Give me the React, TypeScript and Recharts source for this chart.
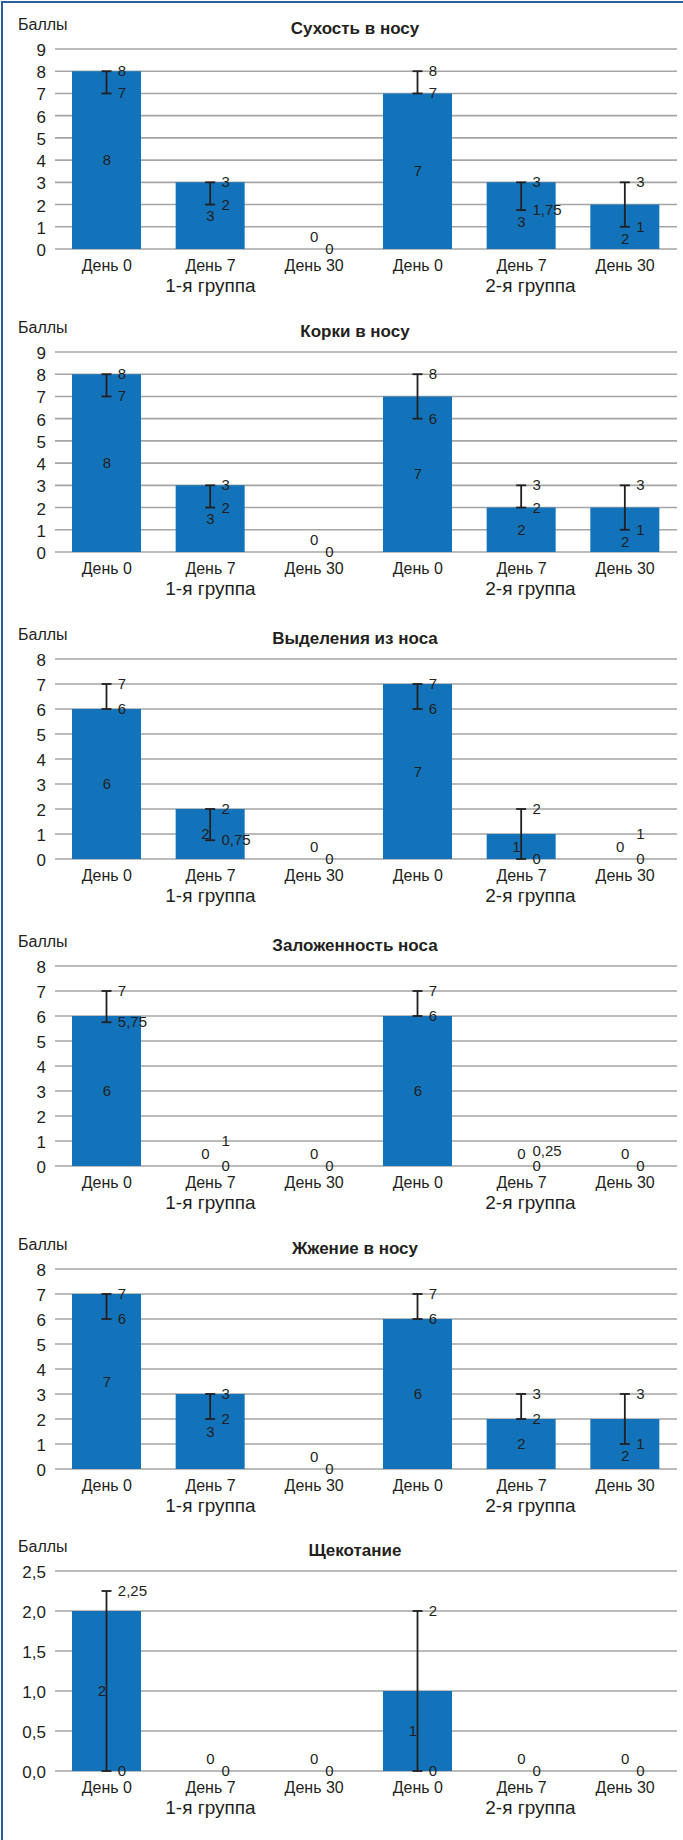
import { ComposedChart, Bar, Line, XAxis, YAxis, CartesianGrid, ErrorBar, LabelList } from "recharts"

const CATEGORIES = ["День 0", "День 7", "День 30", "День 0", "День 7", "День 30"]
const GROUPS = ["1-я группа", "2-я группа"]

// median, lower and upper quartile per category
const DRYNESS_MEDIAN = [8, 3, 0, 7, 3, 2]
const DRYNESS_LOW = [7, 2, 0, 7, 1.75, 1]
const DRYNESS_HIGH = [8, 3, 0, 8, 3, 3]

const CRUSTS_MEDIAN = [8, 3, 0, 7, 2, 2]
const CRUSTS_LOW = [7, 2, 0, 6, 2, 1]
const CRUSTS_HIGH = [8, 3, 0, 8, 3, 3]

const DISCHARGE_MEDIAN = [6, 2, 0, 7, 1, 0]
const DISCHARGE_LOW = [6, 0.75, 0, 6, 0, 0]
const DISCHARGE_HIGH = [7, 2, 0, 7, 2, 1]

const CONGESTION_MEDIAN = [6, 0, 0, 6, 0, 0]
const CONGESTION_LOW = [5.75, 0, 0, 6, 0, 0]
const CONGESTION_HIGH = [7, 1, 0, 7, 0.25, 0]

const BURNING_MEDIAN = [7, 3, 0, 6, 2, 2]
const BURNING_LOW = [6, 2, 0, 6, 2, 1]
const BURNING_HIGH = [7, 3, 0, 7, 3, 3]

const TICKLING_MEDIAN = [2, 0, 0, 1, 0, 0]
const TICKLING_LOW = [0, 0, 0, 0, 0, 0]
const TICKLING_HIGH = [2.25, 0, 0, 2, 0, 0]

const TICKS_9 = [0, 1, 2, 3, 4, 5, 6, 7, 8, 9]
const TICKS_8 = [0, 1, 2, 3, 4, 5, 6, 7, 8]
const TICKS_25 = [0, 0.5, 1, 1.5, 2, 2.5]

const BAR_COLOR = "#1273ba"
const TEXT_COLOR = "#231f20"
const GRID_COLOR = "#a5a5a5"
const FRAME_COLOR = "#2c5e9e"
const FONT = '"Liberation Sans", Arial, sans-serif'

const PANELS = [
  { title: "Сухость в носу", plotTop: 49, ticks: TICKS_9, median: DRYNESS_MEDIAN, low: DRYNESS_LOW, high: DRYNESS_HIGH },
  { title: "Корки в носу", plotTop: 352, ticks: TICKS_9, median: CRUSTS_MEDIAN, low: CRUSTS_LOW, high: CRUSTS_HIGH },
  { title: "Выделения из носа", plotTop: 659, ticks: TICKS_8, median: DISCHARGE_MEDIAN, low: DISCHARGE_LOW, high: DISCHARGE_HIGH },
  { title: "Заложенность носа", plotTop: 966, ticks: TICKS_8, median: CONGESTION_MEDIAN, low: CONGESTION_LOW, high: CONGESTION_HIGH },
  { title: "Жжение в носу", plotTop: 1269, ticks: TICKS_8, median: BURNING_MEDIAN, low: BURNING_LOW, high: BURNING_HIGH },
  { title: "Щекотание", plotTop: 1571, ticks: TICKS_25, median: TICKLING_MEDIAN, low: TICKLING_LOW, high: TICKLING_HIGH, decimals: 1 },
]

const fmt = (v: number) => String(v).replace(".", ",")

const W = 683
const H = 320
const TOP = 49

// where the median label sits: middle of the bar, unless the lower cap is right there
function labelSpot(v: number, lo: number, hi: number) {
  if (v === 0) return { at: 0, dy: -12, dx: hi >= 0.5 ? -5 : 0 }
  const mid = v / 2
  if (lo >= mid && lo - mid <= 0.3) return { at: lo, dy: 12, dx: 0 }
  return { at: mid, dy: 0, dx: lo < mid && hi > mid ? -5 : 0 }
}

function DayTick(props: any) {
  const { x, y, payload, index } = props
  const g = index === 1 ? 0 : index === 4 ? 1 : -1
  return (
    <g>
      <text x={x} y={y + 22} textAnchor="middle" fontSize={16} fontFamily={FONT} fill={TEXT_COLOR}>
        {payload.value}
      </text>
      {g >= 0 && (
        <text x={x + (g === 1 ? 9 : 0)} y={y + 43} textAnchor="middle" fontSize={19} fontFamily={FONT} fill={TEXT_COLOR}>
          {GROUPS[g]}
        </text>
      )}
    </g>
  )
}

function Panel({ title, plotTop, ticks, median, low, high, decimals }: any) {
  const data = CATEGORIES.map((day, i) => ({
    day,
    median: median[i],
    low: low[i],
    high: high[i],
    err: [median[i] - low[i], high[i] - median[i]],
    labelAt: labelSpot(median[i], low[i], high[i]).at,
  }))
  const yMax = ticks[ticks.length - 1]

  const valueLabel = (p: any) => {
    const vb = p.viewBox || p
    const i = p.index
    const s = labelSpot(median[i], low[i], high[i])
    return (
      <text x={vb.x + s.dx} y={vb.y + s.dy} dy={5} textAnchor="middle" fontSize={15} fontFamily={FONT} fill={TEXT_COLOR}>
        {fmt(median[i])}
      </text>
    )
  }

  const highLabel = (p: any) => {
    const vb = p.viewBox || p
    const i = p.index
    const gap = high[i] - low[i]
    const shift = gap > 0 && gap < 0.5 ? -9 : 0
    return (
      <text x={vb.x + 11} y={vb.y + shift} dy={5} fontSize={15} fontFamily={FONT} fill={TEXT_COLOR}>
        {fmt(high[i])}
      </text>
    )
  }

  const lowLabel = (p: any) => {
    const vb = p.viewBox || p
    const i = p.index
    if (low[i] === high[i]) return null
    return (
      <text x={vb.x + 11} y={vb.y} dy={5} fontSize={15} fontFamily={FONT} fill={TEXT_COLOR}>
        {fmt(low[i])}
      </text>
    )
  }

  return (
    <div style={{ position: "absolute", left: 0, top: plotTop - TOP, width: W, height: H }}>
      <ComposedChart width={W} height={H} data={data} margin={{ top: TOP, right: 6, bottom: 11, left: 0 }}>
        <CartesianGrid vertical={false} stroke={GRID_COLOR} strokeWidth={1.6} />
        <XAxis
          dataKey="day"
          axisLine={false}
          tickLine={false}
          tickSize={0}
          tickMargin={0}
          height={60}
          interval={0}
          tick={<DayTick />}
        />
        <YAxis
          width={55}
          domain={[0, yMax]}
          ticks={ticks}
          axisLine={false}
          tickLine={false}
          tickSize={0}
          tickMargin={9}
          interval={0}
          tick={{ fontSize: 17, fontFamily: FONT, fill: TEXT_COLOR, dy: 1 }}
          tickFormatter={(v: number) => (decimals ? v.toFixed(decimals).replace(".", ",") : String(v))}
        />
        <Bar dataKey="median" fill={BAR_COLOR} barSize={69} isAnimationActive={false}>
          <ErrorBar dataKey="err" width={5} strokeWidth={1.8} stroke={TEXT_COLOR} direction="y" />
        </Bar>
        <Line dataKey="labelAt" stroke="none" dot={false} activeDot={false} legendType="none" isAnimationActive={false}>
          <LabelList dataKey="labelAt" content={valueLabel} />
        </Line>
        <Line dataKey="high" stroke="none" dot={false} activeDot={false} legendType="none" isAnimationActive={false}>
          <LabelList dataKey="high" content={highLabel} />
        </Line>
        <Line dataKey="low" stroke="none" dot={false} activeDot={false} legendType="none" isAnimationActive={false}>
          <LabelList dataKey="low" content={lowLabel} />
        </Line>
      </ComposedChart>
      <svg width={W} height={TOP} style={{ position: "absolute", left: 0, top: 0, pointerEvents: "none" }}>
        <text x={18} y={30} fontSize={16} fontFamily={FONT} fill={TEXT_COLOR}>Баллы</text>
        <text x={355} y={34} textAnchor="middle" fontSize={17} fontWeight="bold" fontFamily={FONT} fill={TEXT_COLOR}>
          {title}
        </text>
      </svg>
    </div>
  )
}

export default function App() {
  return (
    <div style={{ position: "relative", width: W, height: 1840, background: "#fff", overflow: "hidden", fontFamily: FONT }}>
      <style>{"body{margin:0}"}</style>
      {PANELS.map((p) => (
        <Panel key={p.title} {...p} />
      ))}
      <div
        style={{
          position: "absolute",
          left: 1,
          top: 1,
          width: W,
          height: 1840,
          borderLeft: `2px solid ${FRAME_COLOR}`,
          borderTop: `2px solid ${FRAME_COLOR}`,
          pointerEvents: "none",
        }}
      />
    </div>
  )
}
